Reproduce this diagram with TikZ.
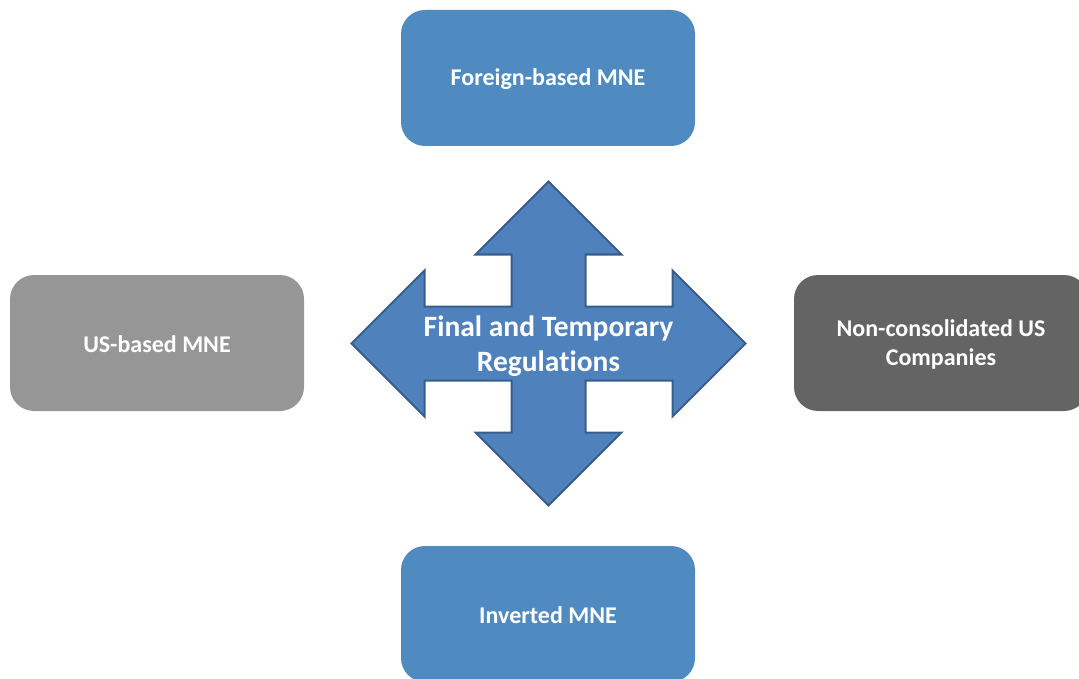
\documentclass[tikz,border=0pt]{standalone}
\usepackage{fontspec}
\setmainfont[Ligatures={NoCommon}]{Carlito}
\definecolor{boxblue}{HTML}{4F8BC0}
\definecolor{boxgrey}{HTML}{969696}
\definecolor{boxdark}{HTML}{646464}
\definecolor{arrfill}{HTML}{4F81BD}
\definecolor{arrline}{HTML}{385D8A}
\tikzset{
  rbox/.style={rounded corners=24pt, draw=none},
  boxtext/.style={text=white, font=\bfseries\fontsize{24}{29}\selectfont, align=center},
}
\begin{document}
\begin{tikzpicture}[x=1pt,y=-1pt]
\useasboundingbox (0,0) rectangle (1079,679);
\begin{scope}
\clip (0,0) rectangle (1079,679);
\fill[boxblue, rbox] (401,10) rectangle (695,146);
\fill[boxblue, rbox] (401,546) rectangle (695,682);
\fill[boxgrey, rbox] (10,275) rectangle (304,411);
\fill[boxdark, rbox] (794,275) rectangle (1088,411);
\end{scope}
\node[boxtext] (top) at (548,79) {Foreign-based MNE};
\node[boxtext] (bot) at (548,615) {Inverted MNE};
\node[boxtext] (left) at (157,344) {US-based MNE};
\node[boxtext] (right) at (941,344) {Non-consolidated US\\Companies};
\draw[fill=arrfill, draw=arrline, line width=2pt, line join=miter]
  (548.5,181.5) -- (621.5,254.5) -- (585.5,254.5) -- (585.5,306.5)
  -- (672.5,306.5) -- (672.5,270.5) -- (745.5,343.5) -- (672.5,416.5)
  -- (672.5,380.5) -- (585.5,380.5) -- (585.5,432.5) -- (621.5,432.5)
  -- (548.5,505.5) -- (475.5,432.5) -- (511.5,432.5) -- (511.5,380.5)
  -- (424.5,380.5) -- (424.5,416.5) -- (351.5,343.5) -- (424.5,270.5)
  -- (424.5,306.5) -- (511.5,306.5) -- (511.5,254.5) -- (475.5,254.5) -- cycle;
\node[text=white, font=\bfseries\fontsize{29.5}{35}\selectfont, align=center] (center) at (548.5,346) {Final and Temporary\\Regulations};
\end{tikzpicture}
\end{document}
